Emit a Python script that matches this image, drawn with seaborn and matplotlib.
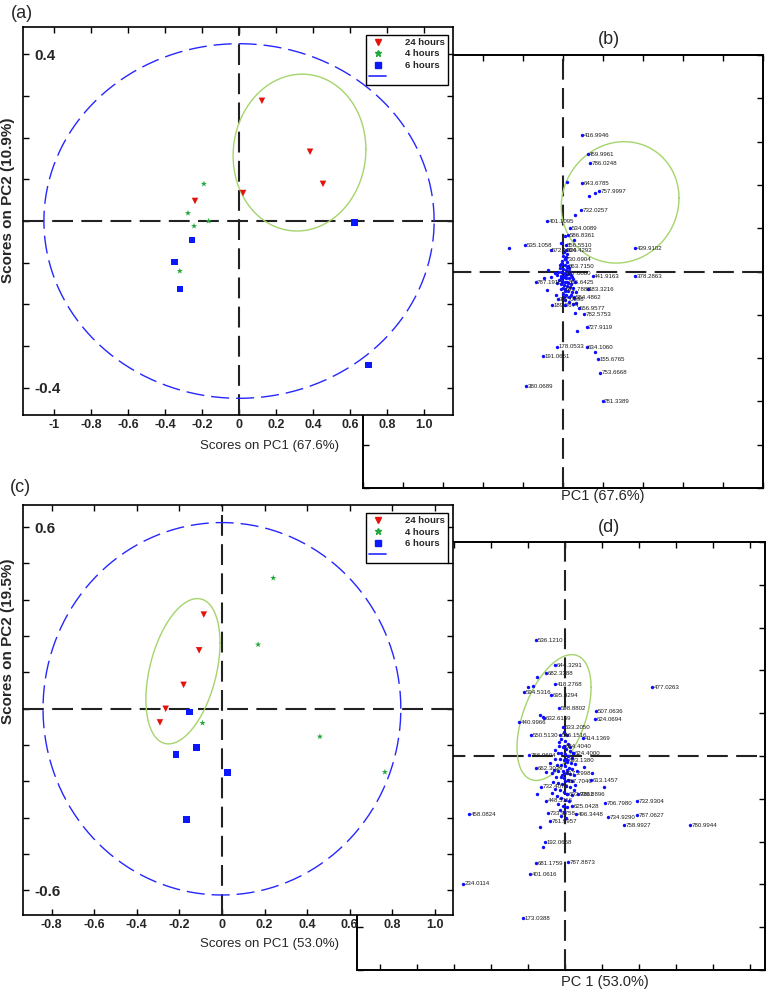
import numpy as np
import pandas as pd
import matplotlib
matplotlib.use("Agg")
import matplotlib.pyplot as plt
from matplotlib.lines import Line2D
import seaborn as sns

sns.set_style("ticks")
plt.rcParams["font.family"] = ["Liberation Sans", "DejaVu Sans"]

groups = ["24 hours", "4 hours", "6 hours"]
palette = {"24 hours": "#e3120b", "4 hours": "#22a83a", "6 hours": "#0b18ff"}
markers = {"24 hours": "v", "4 hours": "*", "6 hours": "s"}
score_group = ["24 hours"] * 5 + ["4 hours"] * 5 + ["6 hours"] * 5

# ---- (a) scores, PC1 67.6 % / PC2 10.9 %
a_pc1 = [0.124, 0.384, 0.454, 0.022, -0.238,
         -0.190, -0.276, -0.164, -0.243, -0.320,
         -0.254, -0.350, -0.320, 0.625, 0.700]
a_pc2 = [0.288, 0.166, 0.089, 0.067, 0.048,
         0.089, 0.019, 0.000, -0.012, -0.120,
         -0.046, -0.098, -0.163, -0.004, -0.345]
a_xticks = [-1, -0.8, -0.6, -0.4, -0.2, 0, 0.2, 0.4, 0.6, 0.8, 1.0]
a_xticklabels = ["-1", "-0.8", "-0.6", "-0.4", "-0.2", "0", "0.2", "0.4", "0.6", "0.8", "1.0"]
a_yticks = [-0.4, -0.3, -0.2, -0.1, 0, 0.1, 0.2, 0.3, 0.4]
a_yticklabels = ["-0.4", "", "", "", "", "", "", "", "0.4"]
a_conf = (1.055, 0.425)                 # 95% ellipse half axes
a_cluster = (0.327, 0.164, 0.359, 0.188, 0.04)   # cx, cy, A, B, phase

# ---- (c) scores, PC1 53.0 % / PC2 19.5 %
c_pc1 = [-0.085, -0.107, -0.180, -0.264, -0.291,
         0.241, 0.170, -0.091, 0.460, 0.765,
         -0.153, -0.119, -0.216, 0.025, -0.166]
c_pc2 = [0.311, 0.193, 0.079, 0.000, -0.045,
         0.432, 0.212, -0.047, -0.092, -0.209,
         -0.011, -0.127, -0.151, -0.211, -0.365]
c_xticks = [-0.8, -0.6, -0.4, -0.2, 0, 0.2, 0.4, 0.6, 0.8, 1.0]
c_xticklabels = ["-0.8", "-0.6", "-0.4", "-0.2", "0", "0.2", "0.4", "0.6", "0.8", "1.0"]
c_yticks = [-0.6, -0.48, -0.36, -0.24, -0.12, 0, 0.12, 0.24, 0.36, 0.48, 0.6]
c_yticklabels = ["-0.6", "", "", "", "", "", "", "", "", "", "0.6"]
c_conf = (0.84, 0.615)
c_cluster = (-0.183, 0.124, 0.174, 0.240, 0.40)

# ---- (b) loadings, labelled m/z
b_labels = ["416.9946", "459.9961", "786.0248", "643.6785", "757.9997", "732.0257",
            "401.1095", "534.0089", "586.8361", "535.1058", "856.5510", "572.1326",
            "864.4292", "439.9102", "730.6904", "863.7150", "587.0060", "441.9163",
            "378.2863", "787.1910", "866.6425", "641.7885", "183.3216", "584.4862",
            "387.0598", "189.0674", "556.9577", "782.5753", "727.9119", "178.0533",
            "634.1060", "191.0661", "155.6765", "753.6668", "380.0689", "781.3389"]
b_x = [0.0238, 0.0308, 0.0341, 0.0242, 0.0451, 0.0231, -0.0198, 0.0088, 0.0066,
       -0.0473, 0.0033, -0.0154, 0.0033, 0.0901, 0.0022, 0.0055, 0.0022, 0.0374,
       0.0901, -0.0341, 0.0055, 0.0022, 0.0308, 0.0143, -0.0066, -0.0132, 0.0198,
       0.0264, 0.0297, -0.0077, 0.0297, -0.0253, 0.0440, 0.0462, -0.0462, 0.0495]
b_y = [0.1575, 0.1353, 0.1256, 0.1021, 0.0932, 0.0713, 0.0583, 0.0502, 0.0421,
       0.0308, 0.0308, 0.0251, 0.0243, 0.0267, 0.0146, 0.0057, -0.0024, -0.0049,
       -0.0049, -0.0122, -0.0122, -0.0203, -0.0203, -0.0292, -0.0316, -0.0389,
       -0.0421, -0.0494, -0.0640, -0.0867, -0.0875, -0.0972, -0.1013, -0.1167,
       -0.1321, -0.1499]
b_extra_x = [0.0396, 0.0319, 0.0154, -0.0670, 0.0044, 0.0176, 0.0396, -0.0187, -0.0242,
             -0.0154, -0.0198, -0.0088, 0.0165, 0.0154, -0.0022, 0.0143, 0.0022]
b_extra_y = [0.0908, 0.0867, 0.0648, 0.0276, 0.1029, -0.0689, -0.0924, 0.0016, -0.0073,
             -0.0065, -0.0219, -0.0276, -0.0365, -0.0478, 0.0332, 0.0365, 0.0413]
b_core = [(0.000, 0.018), (0.003, 0.014), (0.005, 0.011), (-0.002, 0.009), (0.002, 0.007),
          (0.006, 0.006), (-0.004, 0.004), (0.000, 0.003), (0.004, 0.002), (0.008, 0.001),
          (-0.006, 0.000), (-0.002, -0.001), (0.002, -0.002), (0.006, -0.003), (0.010, -0.004),
          (-0.008, -0.004), (-0.003, -0.005), (0.001, -0.006), (0.004, -0.007), (0.008, -0.008),
          (0.012, -0.009), (-0.005, -0.010), (-0.001, -0.011), (0.003, -0.012), (0.006, -0.013),
          (0.010, -0.014), (-0.003, -0.015), (0.001, -0.016), (0.005, -0.017), (0.009, -0.018),
          (0.013, -0.019), (-0.002, -0.020), (0.002, -0.022), (0.006, -0.023), (0.011, -0.024),
          (0.000, -0.026), (0.004, -0.027), (0.008, -0.029), (0.014, -0.031), (0.002, -0.033),
          (0.007, -0.035), (0.012, -0.037), (-0.001, 0.012), (0.001, 0.022), (0.004, 0.017),
          (-0.003, -0.008), (0.007, 0.004), (0.000, -0.019), (0.009, -0.001), (-0.007, -0.013),
          (0.015, -0.012), (0.003, -0.039), (0.010, -0.027), (-0.004, 0.007), (0.005, 0.020),
          (0.011, -0.006), (-0.010, -0.002), (0.016, -0.024), (0.004, -0.004), (0.001, -0.030)]
b_ellipse = (0.0714, 0.0798, 0.0736, 0.0701, 0.07)

# ---- (d) loadings
d_labels = ["536.1210", "644.3291", "682.3388", "418.2768", "594.5316", "695.4294",
            "477.0263", "598.8802", "507.0636", "624.0694", "632.6169", "440.9966",
            "633.2050", "550.5130", "546.1516", "414.1369", "766.9604", "662.3029",
            "613.1457", "732.4078", "603.9861", "730.8896", "448.5116", "706.7980",
            "732.9304", "625.0428", "458.0824", "733.9758", "496.3448", "734.9290",
            "787.0627", "758.9927", "780.9944", "761.9957", "192.0658", "787.8873",
            "681.1759", "401.0616", "234.0114", "173.0388",
            "684.4040", "624.4000", "693.1380", "617.2998", "687.7040"]
d_x = [-0.0392, -0.0135, -0.0257, -0.0135, -0.0554, -0.0189, 0.1176, -0.0081, 0.0419,
       0.0405, -0.0284, -0.0622, -0.0027, -0.0459, -0.0068, 0.0243, -0.0486, -0.0392,
       0.0351, -0.0324, 0.0027, 0.0176, -0.0257, 0.0541, 0.0973, 0.0095, -0.1297,
       -0.0230, 0.0149, 0.0581, 0.0973, 0.0797, 0.1689, -0.0203, -0.0270, 0.0041,
       -0.0392, -0.0473, -0.1378, -0.0568,
       -0.0014, 0.0108, 0.0027, -0.0014, 0.0000]
d_y = [0.1357, 0.1061, 0.0969, 0.0837, 0.0745, 0.0714, 0.0806, 0.0561, 0.0520,
       0.0429, 0.0439, 0.0398, 0.0337, 0.0245, 0.0245, 0.0214, 0.0010, -0.0143,
       -0.0286, -0.0357, -0.0449, -0.0449, -0.0520, -0.0551, -0.0531, -0.0582, -0.0673,
       -0.0663, -0.0673, -0.0714, -0.0694, -0.0806, -0.0806, -0.0755, -0.1010, -0.1235,
       -0.1255, -0.1378, -0.1490, -0.1898,
       0.0112, 0.0031, -0.0051, -0.0204, -0.0296]
d_extra_x = [-0.0378, -0.0500, -0.0432, -0.0338, -0.0297, -0.0338, -0.0297, -0.0378,
             0.0527, 0.0257, 0.0365, -0.0257]
d_extra_y = [0.0918, 0.0806, 0.0816, 0.0480, 0.0459, -0.0827, -0.1061, -0.0449,
             -0.0357, -0.0133, -0.0204, -0.0184]
d_core = [(-0.002, 0.028), (0.002, 0.024), (-0.005, 0.020), (0.000, 0.017), (0.004, 0.014),
          (-0.008, 0.012), (-0.003, 0.010), (0.001, 0.008), (0.006, 0.006), (-0.010, 0.004),
          (-0.005, 0.003), (0.000, 0.002), (0.004, 0.000), (0.009, -0.002), (-0.013, -0.003),
          (-0.007, -0.004), (-0.002, -0.005), (0.003, -0.007), (0.008, -0.008), (0.013, -0.009),
          (-0.011, -0.010), (-0.005, -0.011), (0.000, -0.012), (0.005, -0.014), (0.010, -0.015),
          (-0.015, -0.016), (-0.009, -0.017), (-0.003, -0.018), (0.002, -0.020), (0.007, -0.021),
          (0.012, -0.022), (-0.012, -0.024), (-0.006, -0.025), (-0.001, -0.026), (0.004, -0.028),
          (0.009, -0.029), (-0.016, -0.030), (-0.010, -0.032), (-0.004, -0.033), (0.001, -0.035),
          (0.006, -0.036), (0.014, -0.034), (-0.013, -0.038), (-0.007, -0.040), (-0.002, -0.042),
          (0.003, -0.044), (0.009, -0.046), (-0.011, -0.047), (-0.005, -0.049), (0.000, -0.051),
          (0.005, -0.053), (-0.009, -0.056), (-0.003, -0.058), (0.002, -0.060), (-0.007, -0.063),
          (-0.001, -0.066), (-0.005, -0.070), (0.001, -0.073), (-0.018, -0.020), (0.016, -0.018),
          (-0.020, -0.008), (0.011, 0.003), (-0.014, 0.007), (0.007, 0.011), (-0.017, -0.043),
          (0.012, -0.040), (-0.008, 0.016), (0.003, -0.016), (-0.004, -0.022), (0.001, -0.003)]
d_ellipse = (-0.0149, 0.0449, 0.050, 0.0735, 0.50)

loading_ticks = [-0.25, -0.2, -0.15, -0.1, -0.05, 0, 0.05, 0.1, 0.15, 0.2, 0.25]

GREEN = "#a5d46c"
BLUE_LINE = "#2626ff"
DOT = "#0d0dff"


def ellipse_xy(cx, cy, A, B, phase=0.0):
    t = np.linspace(0, 2 * np.pi, 300)
    return cx + A * np.cos(t), cy + B * np.sin(t + phase)


def zero_lines(ax):
    ax.axhline(0, color="#222222", lw=1.5, ls=(0, (10, 4)), zorder=1)
    ax.axvline(0, color="#222222", lw=1.5, ls=(0, (10, 4)), zorder=1)


def frame(ax, lw=1.2):
    for s in ax.spines.values():
        s.set_color("black")
        s.set_linewidth(lw)
    ax.tick_params(direction="in", top=True, right=True, length=4, width=1, color="black")


def scores_panel(ax, pc1, pc2, conf, clus, xlim, ylim, xticks, xtl, yticks, ytl, ylab, xlab):
    df = pd.DataFrame({"pc1": pc1, "pc2": pc2, "group": score_group})
    zero_lines(ax)
    ex, ey = ellipse_xy(0, 0, *conf)
    ax.plot(ex, ey, color=BLUE_LINE, lw=1.0, ls=(0, (13, 5)), zorder=2)
    gx, gy = ellipse_xy(*clus)
    ax.plot(gx, gy, color=GREEN, lw=1.0, zorder=2)
    sns.scatterplot(data=df, x="pc1", y="pc2", hue="group", style="group",
                    palette=palette, markers=markers, s=22, linewidth=0,
                    legend=False, ax=ax, zorder=4)
    ax.set_xlim(*xlim)
    ax.set_ylim(*ylim)
    frame(ax)
    ax.set_xticks(xticks)
    ax.set_xticklabels(xtl, fontweight="bold", fontsize=9)
    ax.set_yticks(yticks)
    ax.set_yticklabels(ytl, fontweight="bold", fontsize=11)
    ax.tick_params(axis="y", pad=-8)
    for t in ax.get_yticklabels():
        t.set_horizontalalignment("left")
    ax.tick_params(axis="x", pad=3)
    ax.set_xlabel(xlab, fontsize=9.5)
    ax.set_ylabel(ylab, fontsize=11, fontweight="bold")
    handles = [Line2D([], [], ls="", marker=markers[g], color=palette[g], ms=4 if g != "4 hours" else 5)
               for g in groups]
    handles.append(Line2D([], [], color=BLUE_LINE, lw=1.2))
    ax.legend(handles, groups + [""], loc="upper right", bbox_to_anchor=(1.0, 0.992),
              fancybox=False, edgecolor="black", framealpha=1, borderpad=0.35,
              labelspacing=0.25, handlelength=1.8, handletextpad=2.0,
              prop={"weight": "bold", "size": 6.8})


def loadings_panel(ax, xs, ys, labels, ex_x, ex_y, core, ell, xlim, ylim, xlab):
    zero_lines(ax)
    gx, gy = ellipse_xy(*ell)
    ax.plot(gx, gy, color=GREEN, lw=1.0, zorder=2)
    cx, cy = zip(*core)
    pts = pd.DataFrame({"x": list(xs) + list(ex_x) + list(cx),
                        "y": list(ys) + list(ex_y) + list(cy)})
    sns.scatterplot(data=pts, x="x", y="y", color=DOT, s=6, marker="o",
                    linewidth=0, ax=ax, zorder=3)
    for x, y, lab in zip(xs, ys, labels):
        ax.annotate(lab, (x, y), xytext=(1.0, -0.3), textcoords="offset points",
                    fontsize=4.4, va="center", ha="left", color="#1a1a1a", zorder=4)
    ax.set_xlim(*xlim)
    ax.set_ylim(*ylim)
    frame(ax, lw=1.4)
    ax.set_xticks(loading_ticks)
    ax.set_yticks(loading_ticks)
    ax.set_xticklabels([])
    ax.set_yticklabels([])
    ax.set_ylabel("")
    ax.set_xlabel(xlab, fontsize=10.5)


W, H = 768, 992
fig = plt.figure(figsize=(W / 100, H / 100), dpi=100)


def box(l, t, r, b):
    return [l / W, 1 - b / H, (r - l) / W, (b - t) / H]


ax_b = fig.add_axes(box(363, 55, 763, 488))
ax_d = fig.add_axes(box(357, 542, 765, 970))
ax_a = fig.add_axes(box(23, 27, 453, 415))
ax_c = fig.add_axes(box(23, 505, 453, 915))
for ax, z in [(ax_b, 1), (ax_d, 1), (ax_a, 3), (ax_c, 3)]:
    ax.set_zorder(z)
    ax.set_facecolor("white")

scores_panel(ax_a, a_pc1, a_pc2, a_conf, a_cluster, (-1.168, 1.157), (-0.465, 0.465),
             a_xticks, a_xticklabels, a_yticks, a_yticklabels,
             "Scores on PC2 (10.9%)", "Scores on PC1 (67.6%)")
scores_panel(ax_c, c_pc1, c_pc2, c_conf, c_cluster, (-0.934, 1.085), (-0.681, 0.673),
             c_xticks, c_xticklabels, c_yticks, c_yticklabels,
             "Scores on PC2 (19.5%)", "Scores on PC1 (53.0%)")
ax_a.yaxis.set_label_coords(-0.019, 0.554)
ax_a.xaxis.set_label_coords(0.574, -0.064)
ax_c.yaxis.set_label_coords(-0.019, 0.668)
ax_c.xaxis.set_label_coords(0.574, -0.056)

loadings_panel(ax_b, b_x, b_y, b_labels, b_extra_x, b_extra_y, b_core, b_ellipse,
               (-0.222, 0.2176), (-0.1726, 0.178), "PC1 (67.6%)")
loadings_panel(ax_d, d_x, d_y, d_labels, d_extra_x, d_extra_y, d_core, d_ellipse,
               (-0.281, 0.270), (-0.216, 0.220), "PC 1 (53.0%)")
ax_b.xaxis.set_label_coords(0.60, -0.003)
ax_d.xaxis.set_label_coords(0.608, -0.012)

for lab, x, y in [("(a)", 22, 13), ("(b)", 609, 40), ("(c)", 20, 487), ("(d)", 609, 527)]:
    fig.text(x / W, 1 - y / H, lab, fontsize=13, ha="center", va="center")

fig.savefig("out.png", dpi=100, facecolor="white")
